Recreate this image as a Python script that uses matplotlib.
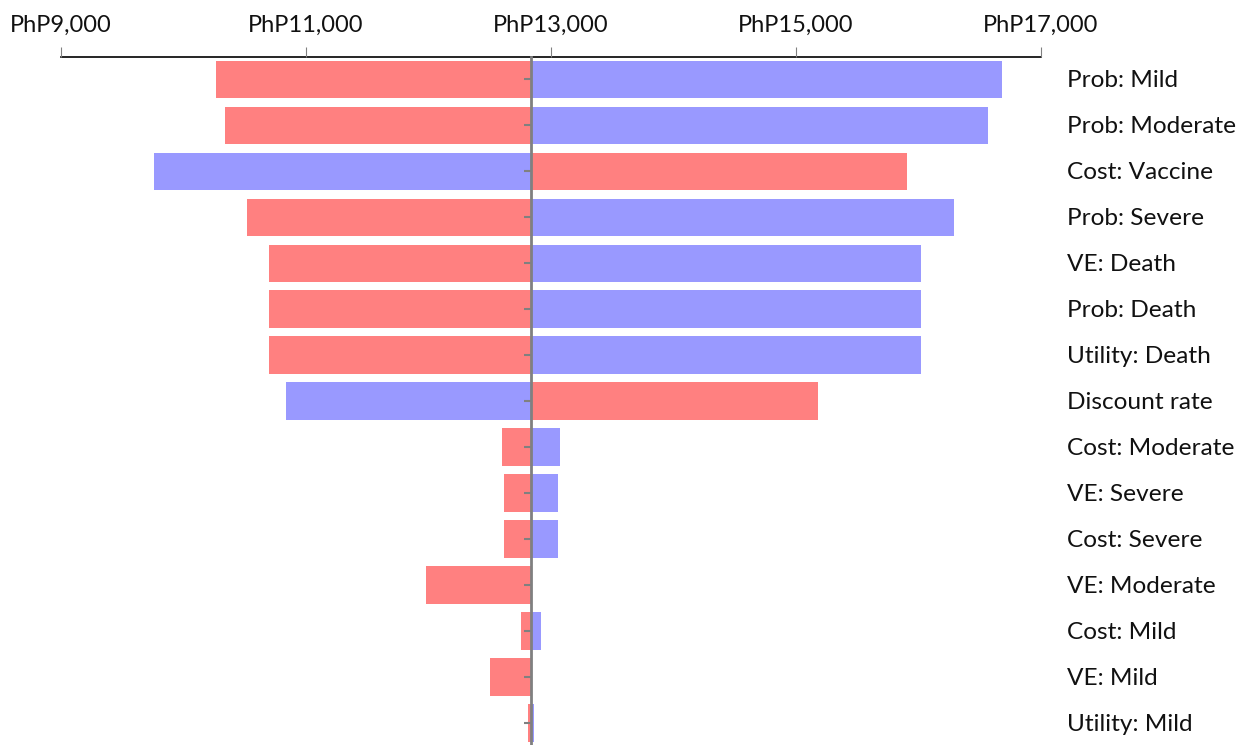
import matplotlib
matplotlib.use("Agg")
import matplotlib.pyplot as plt
import matplotlib.transforms as mtransforms

categories = ["Prob: Mild", "Prob: Moderate", "Cost: Vaccine", "Prob: Severe",
              "VE: Death", "Prob: Death", "Utility: Death", "Discount rate",
              "Cost: Moderate", "VE: Severe", "Cost: Severe", "VE: Moderate",
              "Cost: Mild", "VE: Mild", "Utility: Mild"]
base_value = 12835
red_values = [10272, 10343, 15910, 10522, 10702, 10702, 10702, 15184,
              12604, 12618, 12620, 11986, 12759, 12503, 12813]
blue_values = [16679, 16566, 9762, 16294, 16024, 16024, 16024, 10841,
               13072, 13059, 13056, 12850, 12917, 12840, 12863]
tick_values = [9000, 11000, 13000, 15000, 17000]
tick_labels = ["PhP9,000", "PhP11,000", "PhP13,000", "PhP15,000", "PhP17,000"]

plt.rcParams['font.family'] = ['Lato', 'DejaVu Sans']

W, H = 1241, 745
fig = plt.figure(figsize=(W / 100, H / 100), dpi=100)
left_px, right_px, top_px, bottom_px = 60.5, 1041, 56.5, 746
ax = fig.add_axes([left_px / W, (H - bottom_px) / H,
                   (right_px - left_px) / W, (bottom_px - top_px) / H])

RED = "#FF8080"
BLUE = "#9999FF"
ypos = list(range(len(categories)))
ax.barh(ypos, [r - base_value for r in red_values], left=base_value,
        height=0.82, color=RED, edgecolor="none", zorder=2)
ax.barh(ypos, [b - base_value for b in blue_values], left=base_value,
        height=0.82, color=BLUE, edgecolor="none", zorder=2)

ax.set_xlim(9000, 17000)
ax.set_ylim(len(categories) - 0.5, -0.5)

# top axis
ax.xaxis.tick_top()
ax.set_xticks(tick_values)
ax.set_xticklabels(tick_labels, fontsize=17, color="#111111")
ax.tick_params(axis="x", direction="out", length=7, width=0.8,
               color="#808080", pad=8)
ax.spines["top"].set_color("black")
ax.spines["top"].set_linewidth(1.2)
ax.spines["bottom"].set_visible(False)
ax.spines["right"].set_visible(False)

# centre axis at the base value
ax.spines["left"].set_position(("data", base_value))
ax.spines["left"].set_color("#808080")
ax.spines["left"].set_linewidth(2)
ax.spines["left"].set_zorder(5)
ax.set_yticks(ypos)
ax.set_yticklabels([])
ax.tick_params(axis="y", direction="out", length=5, width=1.5,
               color="#808080", zorder=5)
for t in ax.yaxis.get_major_ticks():
    t.tick1line.set_zorder(5)
ax.set_axisbelow(False)

trans = mtransforms.blended_transform_factory(ax.transAxes, ax.transData)
for i, c in enumerate(categories):
    ax.text(1.0265, i + 0.03, c, transform=trans, ha="left", va="center",
            fontsize=17.6, color="#111111", clip_on=False)

fig.savefig("out.png", dpi=100)
